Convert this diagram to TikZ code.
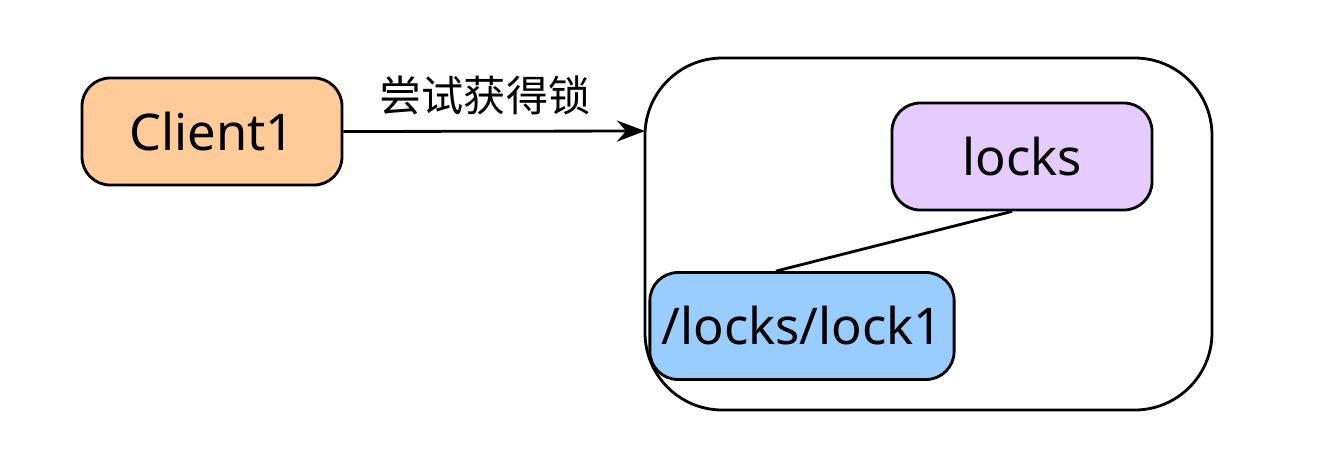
\documentclass[tikz,border=0pt]{standalone}
\usepackage{fontspec}
\setmainfont{Noto Sans}
\newfontfamily\cjk{Noto Sans CJK SC}
\definecolor{clientfill}{HTML}{FFCC99}
\definecolor{locksfill}{HTML}{E5CCFF}
\definecolor{lockfill}{HTML}{99CCFF}
\usetikzlibrary{arrows.meta}
\tikzset{
  box/.style={draw,thick,rounded corners=8pt,minimum width=2.6cm,minimum height=1.07cm,font=\bfseries\Large},
}
\begin{document}
\begin{tikzpicture}
\useasboundingbox (0,0) rectangle (13.24,4.58);

\draw[thick,rounded corners=22pt] (6.45,0.48) rectangle (12.12,4.00);

\node[box,fill=clientfill] (client) at (2.12,3.265) {Client1};
\node[box,fill=locksfill] (locks) at (10.22,3.015) {locks};
\node[box,fill=lockfill] (lock1) at (8.02,1.32) {/locks/lock1};

\coordinate (zk) at (6.45,3.27);
\draw[thick,-{Stealth[length=8pt]}] (client.east) -- (zk);
\node[font=\cjk\large] (label) at (4.85,3.63) {尝试获得锁};

\draw[thick] ([xshift=-0.1cm]locks.south) -- ([xshift=-0.26cm]lock1.north);
\end{tikzpicture}
\end{document}
